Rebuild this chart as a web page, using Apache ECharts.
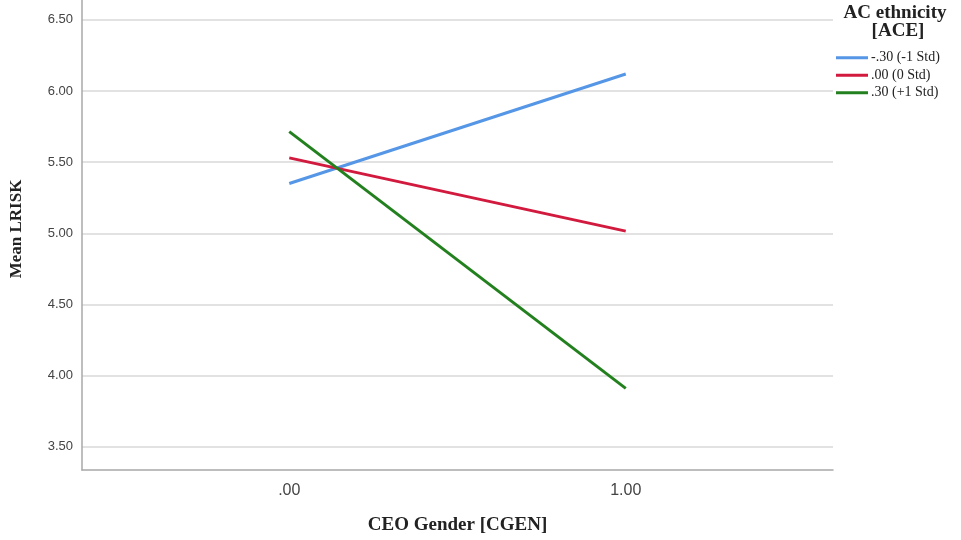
<!DOCTYPE html>
<html><head><meta charset="utf-8">
<script src="https://cdn.jsdelivr.net/npm/echarts@6/dist/echarts.min.js"></script>
<style>html,body{margin:0;padding:0;background:#fff}#c{width:961px;height:540px}</style>
</head><body><div id="c"></div>
<script>
const xValues = [0, 1];
const xTickLabels = ['.00', '1.00'];
const yTicks = [3.5, 4.0, 4.5, 5.0, 5.5, 6.0, 6.5];
const seriesNames = ['-.30 (-1 Std)', '.00 (0 Std)', '.30 (+1 Std)'];
const seriesBlue = [5.35, 6.12];
const seriesRed = [5.53, 5.015];
const seriesGreen = [5.715, 3.91];
const seriesColors = ['#5596e6', '#d21a3e', '#23801e'];
const allSeries = [seriesBlue, seriesRed, seriesGreen];

const chart = echarts.init(document.getElementById('c'), null, {renderer: 'canvas'});
const option = {
  animation: false,
  backgroundColor: '#fff',
  grid: {left: 82, right: 128, top: 0, bottom: 68, containLabel: false},
  xAxis: {
    type: 'value', min: -0.616, max: 1.616,
    name: 'CEO Gender [CGEN]', nameLocation: 'middle', nameGap: 46,
    nameTextStyle: {fontFamily: 'Liberation Serif', fontWeight: 'bold', fontSize: 19, color: '#222'},
    axisLine: {show: true, onZero: false, lineStyle: {color: '#a8a8a8', width: 1.5}},
    axisTick: {show: false, customValues: xValues},
    splitLine: {show: false},
    axisLabel: {customValues: xValues, margin: 13, fontFamily: 'Liberation Sans', fontSize: 16, color: '#444',
      formatter: v => xTickLabels[xValues.indexOf(Math.round(v))]}
  },
  yAxis: {
    type: 'value', min: 3.336, max: 6.64,
    name: 'Mean LRISK', nameLocation: 'middle', nameGap: 57, nameRotate: 90,
    nameTextStyle: {fontFamily: 'Liberation Serif', fontWeight: 'bold', fontSize: 17, color: '#222', padding: [0, 0, 0, 12]},
    axisLine: {show: true, onZero: false, lineStyle: {color: '#a8a8a8', width: 1.5}},
    axisTick: {show: false, customValues: yTicks},
    splitLine: {show: true, lineStyle: {color: '#d8d8d8', width: 1.5}},
    axisLabel: {customValues: yTicks, margin: 9, fontFamily: 'Liberation Sans', fontSize: 13, color: '#444',
      formatter: v => v.toFixed(2)}
  },
  legend: {
    orient: 'vertical', left: 836, top: 50, padding: 0, icon: 'rect', itemWidth: 32, itemHeight: 3, itemGap: 2,
    textStyle: {fontFamily: 'Liberation Serif', fontSize: 14, color: '#222', lineHeight: 15.5, padding: [0,0,0,-2]},
    data: seriesNames
  },
  graphic: [
    {type: 'text', x: 895, y: 13, style: {text: 'AC ethnicity', fontFamily: 'Liberation Serif', fontWeight: 'bold', fontSize: 19, fill: '#222', textAlign: 'center', textVerticalAlign: 'middle'}},
    {type: 'text', x: 898, y: 31, style: {text: '[ACE]', fontFamily: 'Liberation Serif', fontWeight: 'bold', fontSize: 19, fill: '#222', textAlign: 'center', textVerticalAlign: 'middle'}}
  ],
  series: allSeries.map((vals, i) => ({
    type: 'line', name: seriesNames[i],
    data: xValues.map((x, j) => [x, vals[j]]),
    showSymbol: false, symbol: 'none',
    lineStyle: {color: seriesColors[i], width: 3},
    itemStyle: {color: seriesColors[i]}
  }))
};
chart.setOption(option);
</script></body></html>
